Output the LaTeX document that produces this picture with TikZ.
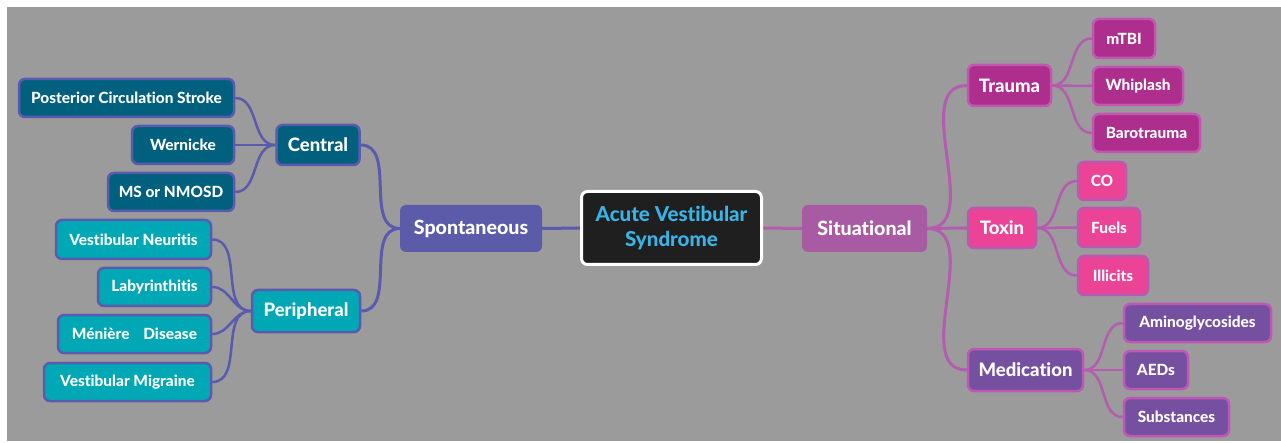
\documentclass[tikz,border=0pt]{standalone}
\usepackage{fontspec}
\setmainfont{Lato}[BoldFont={Lato Heavy}, Ligatures={NoCommon}]
\definecolor{bggray}{HTML}{9B9B9B}
\definecolor{leftline}{HTML}{5A5AAE}
\definecolor{spontfill}{HTML}{5B5BAA}
\definecolor{centralfill}{HTML}{02607F}
\definecolor{periphfill}{HTML}{00A8B5}
\definecolor{rootfill}{HTML}{1F1F1F}
\definecolor{roottext}{HTML}{3AB4E6}
\definecolor{sitfill}{HTML}{A85BA3}
\definecolor{rightline}{HTML}{B55BB0}
\definecolor{traumafill}{HTML}{AE2E8E}
\definecolor{traumaborder}{HTML}{C257B2}
\definecolor{toxinfill}{HTML}{EB4496}
\definecolor{toxinborder}{HTML}{B85AB0}
\definecolor{medfill}{HTML}{7650A0}
\definecolor{medborder}{HTML}{BE57B6}
\pgfdeclarelayer{bglayer}
\pgfdeclarelayer{connlayer}
\pgfsetlayers{bglayer,connlayer,main}
\tikzset{
  box/.style={rectangle, rounded corners=6pt, text=white, font=\bfseries\fontsize{15.4}{18}\selectfont, inner sep=0pt, align=center},
  bigfont/.style={font=\bfseries\fontsize{18.5}{22}\selectfont},
  topfont/.style={font=\bfseries\fontsize{19.6}{23}\selectfont},
  centralbox/.style={box, fill=centralfill, draw=leftline, line width=2.5pt},
  periphbox/.style={box, fill=periphfill, draw=leftline, line width=2.5pt},
  traumabox/.style={box, fill=traumafill, draw=traumaborder, line width=2.5pt},
  toxinbox/.style={box, fill=toxinfill, draw=toxinborder, line width=2.5pt},
  medbox/.style={box, fill=medfill, draw=medborder, line width=2.5pt},
  lconn/.style={draw=leftline, line width=2.5pt},
  lmain/.style={draw=leftline, line width=3pt},
  rconn/.style={draw=rightline, line width=2.5pt},
  rmain/.style={draw=rightline, line width=3pt},
}
\begin{document}
\begin{tikzpicture}[x=1pt,y=-1pt]
\useasboundingbox (0,0) rectangle (1281,443);
\begin{pgfonlayer}{bglayer}
\fill[white] (0,0) rectangle (1281,443);
\fill[bggray] (7,7) rectangle (1281,441);
\end{pgfonlayer}

% root
\node[box, fill=rootfill, draw=white, line width=3pt, text=roottext, font=\bfseries\fontsize{20.5}{25}\selectfont, minimum width=180pt, minimum height=73pt] (root) at (671.5,228) {Acute Vestibular\\Syndrome};

% left main
\node[box, topfont, fill=spontfill, minimum width=142pt, minimum height=47pt] (spont) at (471,228.5) {Spontaneous};
\node[centralbox, bigfont, minimum width=83pt, minimum height=40pt] (central) at (318,145) {Central};
\node[periphbox, bigfont, minimum width=108pt, minimum height=42pt] (periph) at (306,311) {Peripheral};

\node[centralbox, minimum width=215pt, minimum height=38pt] (pcs) at (126.5,98) {Posterior Circulation Stroke};
\node[centralbox, minimum width=102pt, minimum height=38pt] (wer) at (183,145) {Wernicke};
\node[centralbox, minimum width=126pt, minimum height=38pt] (ms) at (171,192) {MS or NMOSD};

\node[periphbox, minimum width=155pt, minimum height=39pt] (vn) at (133.5,239.5) {Vestibular Neuritis};
\node[periphbox, minimum width=113pt, minimum height=38pt] (lab) at (154.5,287) {Labyrinthitis};
\node[periphbox, minimum width=153pt, minimum height=38pt] (men) at (134.5,334) {Ménière\hspace{0.9em}Disease};
\node[periphbox, minimum width=167pt, minimum height=38pt] (vm) at (127.5,382) {Vestibular Migraine};

% right main
\node[box, topfont, fill=sitfill, minimum width=125pt, minimum height=47pt] (sit) at (864.5,228.5) {Situational};
\node[traumabox, bigfont, minimum width=83pt, minimum height=41pt] (trauma) at (1009.5,85.5) {Trauma};
\node[toxinbox, bigfont, minimum width=68pt, minimum height=40pt] (toxin) at (1002,228) {Toxin};
\node[medbox, bigfont, minimum width=115pt, minimum height=42pt] (med) at (1025.5,370) {Medication};

\node[traumabox, minimum width=62pt, minimum height=39pt] (mtbi) at (1124,38.5) {mTBI};
\node[traumabox, minimum width=90pt, minimum height=38pt] (whip) at (1138,86) {Whiplash};
\node[traumabox, minimum width=107pt, minimum height=38pt] (baro) at (1146.5,133) {Barotrauma};

\node[toxinbox, minimum width=48pt, minimum height=38pt] (co) at (1102,181) {CO};
\node[toxinbox, minimum width=62pt, minimum height=39pt] (fuels) at (1109,227.5) {Fuels};
\node[toxinbox, minimum width=70pt, minimum height=39pt] (illicit) at (1113,275.5) {Illicits};

\node[medbox, minimum width=147pt, minimum height=38pt] (amino) at (1197.5,323) {Aminoglycosides};
\node[medbox, minimum width=64pt, minimum height=38pt] (aeds) at (1156,370) {AEDs};
\node[medbox, minimum width=105pt, minimum height=38pt] (subst) at (1176.5,417) {Substances};

% connectors between nodes
\begin{pgfonlayer}{connlayer}
\path[lmain] (root.west) -- (spont.east);
\path[lmain] (spont.west) to[out=180,in=0] (central.east);
\path[lmain] (spont.west) to[out=180,in=0] (periph.east);
\path[lconn] (pcs.east) to[out=0,in=180] (central.west);
\path[lconn] (wer.east) to[out=0,in=180] (central.west);
\path[lconn] (ms.east) to[out=0,in=180] (central.west);
\path[lconn] (vn.east) to[out=0,in=180] (periph.west);
\path[lconn] (lab.east) to[out=0,in=180] (periph.west);
\path[lconn] (men.east) to[out=0,in=180] (periph.west);
\path[lconn] (vm.east) to[out=0,in=180] (periph.west);

\path[rmain] (root.east) -- (sit.west);
\path[rmain] (sit.east) to[out=0,in=180] (trauma.west);
\path[rmain] (sit.east) -- (toxin.west);
\path[rmain] (sit.east) to[out=0,in=180] (med.west);
\path[rconn] (trauma.east) to[out=0,in=180] (mtbi.west);
\path[rconn] (trauma.east) -- (whip.west);
\path[rconn] (trauma.east) to[out=0,in=180] (baro.west);
\path[rconn] (toxin.east) to[out=0,in=180] (co.west);
\path[rconn] (toxin.east) -- (fuels.west);
\path[rconn] (toxin.east) to[out=0,in=180] (illicit.west);
\path[rconn] (med.east) to[out=0,in=180] (amino.west);
\path[rconn] (med.east) -- (aeds.west);
\path[rconn] (med.east) to[out=0,in=180] (subst.west);
\end{pgfonlayer}
\end{tikzpicture}
\end{document}
